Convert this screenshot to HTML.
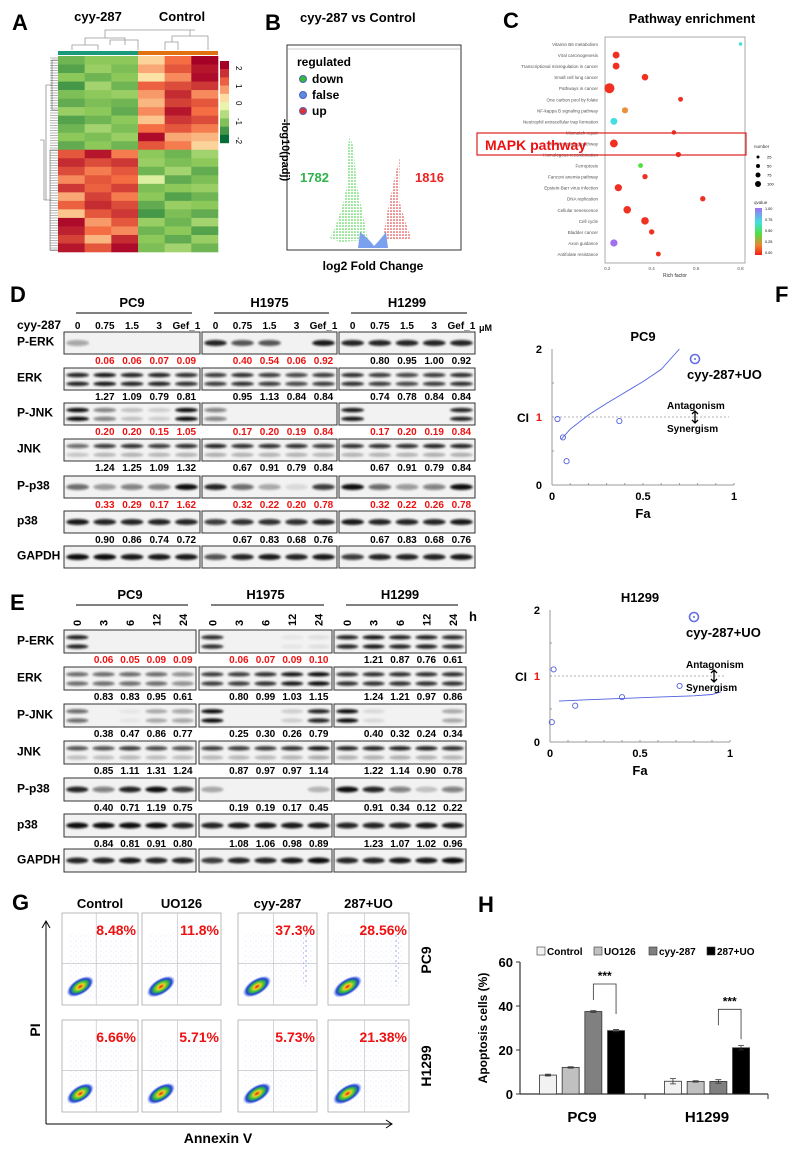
<!DOCTYPE html>
<html><head><meta charset="utf-8">
<style>
html,body{margin:0;padding:0;background:#fff;}
svg{display:block;font-family:"Liberation Sans",Arial,sans-serif;}
</style></head>
<body>
<svg id="fig" width="792" height="1159" viewBox="0 0 792 1159" xmlns="http://www.w3.org/2000/svg">
<defs>
<filter id="blur1" x="-20%" y="-100%" width="140%" height="300%"><feGaussianBlur stdDeviation="1"/></filter>
<filter id="blur2" x="-50%" y="-50%" width="200%" height="200%"><feGaussianBlur stdDeviation="2"/></filter>
<radialGradient id="flowgrad" cx="50%" cy="50%" r="50%">
<stop offset="0%" stop-color="#e02010"/><stop offset="25%" stop-color="#f0d020"/><stop offset="50%" stop-color="#30c040"/><stop offset="75%" stop-color="#2040d0"/><stop offset="100%" stop-color="#4060ff" stop-opacity="0"/>
</radialGradient>
<pattern id="dotsB" width="5" height="5" patternUnits="userSpaceOnUse"><circle cx="1" cy="1" r="0.6" fill="#5060e0"/><circle cx="3.5" cy="3" r="0.5" fill="#7080f0"/></pattern>
<pattern id="dotsG" width="3" height="3" patternUnits="userSpaceOnUse"><circle cx="1" cy="1" r="0.8" fill="#33cc33"/></pattern>
<pattern id="dotsR" width="3" height="3" patternUnits="userSpaceOnUse"><circle cx="1" cy="1" r="0.8" fill="#dd2222"/></pattern>
</defs>
<g id="root"></g>
</svg>
<script>
// ---- Panel H chart data ----
const hGroups = ["PC9", "H1299"];
const hSeries = ["Control", "UO126", "cyy-287", "287+UO"];
const hValues = [[8.6, 12.1, 37.5, 28.8], [5.8, 5.7, 5.7, 21.0]];
const hErrors = [[0.4, 0.3, 0.4, 0.5], [1.2, 0.3, 0.8, 1.0]];
const hTicks = [0, 20, 40, 60];
// ---- Panel F CI data ----
const fPc9Fa = [0.03, 0.06, 0.08, 0.37];
const fPc9CI = [0.97, 0.70, 0.35, 0.94];
const fPc9CurveFa = [0.05, 0.1, 0.2, 0.3, 0.4, 0.5, 0.6, 0.7];
const fPc9CurveCI = [0.67, 0.82, 1.03, 1.2, 1.36, 1.52, 1.7, 2.0];
const fH1299Fa = [0.02, 0.01, 0.14, 0.40, 0.72];
const fH1299CI = [1.10, 0.30, 0.55, 0.68, 0.85];
const fH1299CurveFa = [0.05, 0.2, 0.4, 0.6, 0.8, 0.9, 0.95];
const fH1299CurveCI = [0.62, 0.64, 0.66, 0.68, 0.70, 0.72, 0.76];
// ---- Panel C enrichment data ----
const cPathways = ["Vitamin B6 metabolism","Viral carcinogenesis","Transcriptional misregulation in cancer","Small cell lung cancer","Pathways in cancer","One carbon pool by folate","NF-kappa B signaling pathway","Neutrophil extracellular trap formation","Mismatch repair","MAPK signaling pathway","Homologous recombination","Ferroptosis","Fanconi anemia pathway","Epstein-Barr virus infection","DNA replication","Cellular senescence","Cell cycle","Bladder cancer","Axon guidance","Antifolate resistance"];
const cRich = [0.8,0.24,0.24,0.37,0.21,0.53,0.28,0.23,0.5,0.23,0.52,0.35,0.37,0.25,0.63,0.29,0.37,0.4,0.23,0.43];
const cCount = [5,40,40,35,100,15,30,40,12,55,20,15,20,45,20,50,50,20,45,15];
const cQ = [0.8,0.1,0.15,0.02,0.08,0.05,0.3,0.75,0.05,0.08,0.03,0.55,0.08,0.1,0.02,0.02,0.03,0.08,0.95,0.08];
// ---- Panel A heatmap values ----
const heatRows = [
[-1.2,-1,-1,0.3,1,2],[-1.4,-0.9,-1.1,0.6,1.2,1.8],[-1.0,-1.2,-1.0,0.2,0.8,1.9],[-1.5,-0.8,-1.2,1.1,1.3,1.5],
[-1.1,-1.0,-0.9,0.7,1.6,0.8],[-1.3,-1.1,-1.2,0.5,1.4,1.2],[-0.9,-1.0,-1.3,0.8,1.8,1.0],[-1.4,-1.2,-1.0,0.4,1.5,1.3],
[-1.2,-0.8,-1.1,1.0,1.2,0.9],[-1.0,-1.1,-0.9,1.9,0.6,0.5],[-1.3,-1.0,-1.2,1.2,0.9,0.3],
[1.2,1.8,0.9,-1,-1.2,-0.8],[1.6,1.3,1.5,-0.9,-1.1,-1.0],[1.3,0.9,1.2,-1.2,-0.8,-1.3],[0.8,1.2,1.0,-0.3,-1.3,-1.1],
[1.5,1.1,1.4,-1.1,-1.0,-0.9],[0.6,1.4,0.9,-1.0,-1.4,-1.2],[1.1,1.6,1.3,-1.3,-0.9,-1.0],[0.4,1.2,1.5,-1.5,-1.1,-1.3],
[1.9,0.7,1.2,-0.9,-1.2,-0.8],[1.7,1.0,0.8,-1.2,-1.0,-1.4],[1.4,0.5,1.6,-1.0,-1.3,-0.9],[1.8,1.2,1.9,-1.1,-0.8,-1.2]];

const NS="http://www.w3.org/2000/svg";
const root=document.getElementById('root');
function el(tag,attrs,parent,text){const e=document.createElementNS(NS,tag);for(const k in attrs)e.setAttribute(k,attrs[k]);if(text!==undefined)e.textContent=text;(parent||root).appendChild(e);return e;}
function txt(x,y,s,size,opts){opts=opts||{};const t=el('text',{x:x,y:y,'font-size':size,'font-weight':opts.w||'bold','fill':opts.c||'#000','text-anchor':opts.a||'start'},opts.p,s);if(opts.rot)t.setAttribute('transform','rotate('+opts.rot+' '+x+' '+y+')');


return t;}

// Panel letters
[["A",12,30],["B",265,30],["C",503,28],["D",10,302],["E",10,610],["F",775,302],["G",12,910],["H",478,912]].forEach(l=>{txt(l[1],l[2],l[0],22,{n:'panel-letter-'+l[0].toLowerCase()});});

// ===== Panel A heatmap =====
const gA=el('g',{});


txt(98,21,"cyy-287",13,{a:'middle',n:'heatmap-group-cyy287'});
txt(182,21,"Control",13,{a:'middle',n:'heatmap-group-control'});
function heatColor(v){const stops=[[-2,[0,104,55]],[-1,[140,200,90]],[0,[255,255,191]],[1,[244,109,67]],[2,[165,0,38]]];v=Math.max(-2,Math.min(2,v));for(let i=0;i<stops.length-1;i++){const a=stops[i],b=stops[i+1];if(v<=b[0]){const t=(v-a[0])/(b[0]-a[0]);return 'rgb('+a[1].map((c,j)=>Math.round(c+(b[1][j]-c)*t)).join(',')+')';}}return 'rgb(165,0,38)';}
const hx0=58,hx1=218,hy0=56,hy1=252,cw=(hx1-hx0)/6,rh=(hy1-hy0)/heatRows.length;
heatRows.forEach((row,r)=>{row.forEach((v,c)=>{const rc=el('rect',{x:hx0+c*cw,y:hy0+r*rh,width:cw+0.3,height:rh+0.3,fill:heatColor(v)},gA);

});});
el('rect',{x:hx0,y:51,width:80,height:4,fill:'#1a9a7a'},gA);
el('rect',{x:hx0+80,y:51,width:80,height:4,fill:'#e07010'},gA);
el('path',{d:'M72 50V45H98V50 M85 45V38H125V45 M110 45V40H138V50 M105 38V30H195 M165 50V42H178V50 M172 42V36H208V50 M190 36V30',stroke:'#999',fill:'none','stroke-width':0.8},gA);
el('path',{d:'M58 60H52V110H58 M52 85H46V200H52 M58 150H50V250H58 M50 200H44 M44 140V200 M44 140H40',stroke:'#666',fill:'none','stroke-width':0.6},gA);
for(let y=58;y<252;y+=2.5){el('line',{x1:50,x2:58,y1:y,y2:y,stroke:'#444','stroke-width':0.4},gA);}
for(let i=0;i<10;i++){el('rect',{x:220,y:61+i*8.2,width:9,height:8.4,fill:heatColor(2-i*0.44)},gA);}
[["2",66],["1",84],["0",101],["-1",118],["-2",137]].forEach(t=>{txt(236,t[1],t[0],8,{n:'colorbar-tick',rot:90,w:'normal'});});

// ===== Panel B volcano =====
txt(300,22,"cyy-287 vs Control",13,{n:'volcano-title'});
const bb=el('rect',{x:287,y:45,width:174,height:205,fill:'#fff',stroke:'#333','stroke-width':1});


el('line',{x1:287,x2:461,y1:49,y2:49,stroke:'#999','stroke-width':0.5});
txt(297,66,"regulated",12,{n:'legend-title'});
[["down",83,'#33bb33'],["false",99,'#5b8be0'],["up",115,'#dd3333']].forEach(l=>{const c=el('circle',{cx:303,cy:l[1]-4,r:3.5,fill:l[2],stroke:'#5060c0','stroke-width':1});


txt(312,l[1],l[0],12,{n:'legend-entry-'+l[0]});});
el('path',{d:'M330 238 Q342 215 348 180 Q346 150 350 135 L354 150 Q356 185 360 200 Q364 220 368 240 L340 242 Z',fill:'url(#dotsG)'});
el('path',{d:'M383 240 Q386 215 392 190 Q396 170 400 158 L399 200 Q406 225 412 240 Z',fill:'url(#dotsR)'});
el('path',{d:'M360 232 Q370 240 374 246 Q380 240 386 232 L388 248 L358 248 Z',fill:'#7aa0ee'});
txt(300,182,"1782",13,{c:'#2db34a',n:'down-count'});
txt(415,182,"1816",13,{c:'#ee2222',n:'up-count'});
txt(282,150,"-log10(padj)",11,{rot:90,a:'middle',n:'y-axis-title'});
txt(373,270,"log2 Fold Change",12,{a:'middle',n:'x-axis-title'});

// ===== Panel C =====
txt(692,23,"Pathway enrichment",13,{a:'middle',n:'enrichment-title'});
const cx0=605,cx1=745,cy0=37,cy1=263;
const cb=el('rect',{x:cx0,y:cy0,width:cx1-cx0,height:cy1-cy0,fill:'#fff',stroke:'#aaa'});


function cX(v){return cx0+(v-0.19)/(0.82-0.19)*(cx1-cx0);} function cY(i){return 44+i*(254-44)/(cPathways.length-1);}
function qColor(q){if(q<0.2)return '#f03020';if(q<0.4)return '#e89040';if(q<0.6)return '#50e040';if(q<0.85)return '#40e0e0';return '#a070f0';}
cPathways.forEach((p,i)=>{txt(598,cY(i)+2,p,4.5,{a:'end',w:'normal',c:'#555',n:'pathway-label'});
const d=el('circle',{cx:cX(cRich[i]),cy:cY(i),r:0.8+Math.sqrt(cCount[i])*0.42,fill:qColor(cQ[i])});

});
[0.2,0.4,0.6,0.8].forEach(v=>txt(cX(v),270,v.toFixed(1),4.5,{a:'middle',w:'normal',c:'#555',n:'x-tick'}));
txt(675,277,"Rich factor",5,{a:'middle',w:'normal',c:'#333',n:'x-axis-title'});
const mb=el('rect',{x:477,y:133,width:269,height:22,fill:'none',stroke:'#e02020','stroke-width':1.2});


txt(485,150,"MAPK pathway",14,{c:'#ee1111',n:'mapk-label'});
txt(754,148,"number",4.5,{w:'normal',c:'#333',n:'size-legend-title'});
[[25,157,1.5],[50,166,2],[75,175,2.5],[100,184,3]].forEach(s=>{el('circle',{cx:758,cy:s[1],r:s[2],fill:'#000'});txt(767,s[1]+1.5,String(s[0]),4,{w:'normal',n:'size-legend-entry'});});
txt(754,204,"qvalue",4.5,{w:'normal',c:'#333',n:'color-legend-title'});
const qg=el('linearGradient',{id:'qg',x1:0,y1:0,x2:0,y2:1},document.querySelector('defs'));
[['0','#a070f0'],['0.3','#40e0e0'],['0.55','#50e040'],['0.8','#f08030'],['1','#f02010']].forEach(s=>el('stop',{offset:s[0],'stop-color':s[1]},qg));
el('rect',{x:755,y:208,width:7,height:47,fill:'url(#qg)'});
[["1.00",210],["0.75",221],["0.50",232],["0.25",243],["0.00",254]].forEach(t=>txt(765,t[1],t[0],3.8,{w:'normal',n:'qvalue-tick'}));

// ===== Western blots =====
function blotPanel(cfg){
  cfg.groups.forEach((g,gi)=>{
    const bx=cfg.boxes[gi];
    txt((bx[0]+bx[1])/2,cfg.headY,g,13,{a:'middle',n:'cell-line-header'});
    el('line',{x1:bx[0]+12,x2:bx[1]-8,y1:cfg.headY+6,y2:cfg.headY+6,stroke:'#000','stroke-width':1});
  });
  cfg.rows.forEach((row,ri)=>{
    const y0=cfg.rowY[ri];
    txt(17,y0+cfg.rowH*0.62,row.name,12,{n:'blot-label-'+row.name.toLowerCase()});
    cfg.groups.forEach((g,gi)=>{
      const bx=cfg.boxes[gi],w=bx[1]-bx[0],lw=w/5;
      const b=el('rect',{x:bx[0],y:y0,width:w,height:cfg.rowH,fill:'#f2f2f2',stroke:'#333','stroke-width':1});
      
      
      row.int[gi].forEach((v,li)=>{
        if(v<=0)return;
        const cxp=bx[0]+lw*(li+0.5);
        const ys=row.two?[y0+cfg.rowH*0.32,y0+cfg.rowH*0.72]:[y0+cfg.rowH*0.5];
        ys.forEach((yy,k)=>{el('ellipse',{cx:cxp,cy:yy,rx:lw*0.42,ry:row.two?2.2:3,fill:'#111','fill-opacity':(k===1&&row.weak2?v*0.3:v),filter:'url(#blur1)'});});
      });
      if(row.vals&&row.vals[gi]){
        row.vals[gi].forEach((s,li)=>{txt(bx[0]+lw*(li+1.5),y0+cfg.rowH+10,s,10,{a:'middle',c:row.red&&row.red[gi]?'#ee1111':'#000',n:'densitometry-value'});});
      }
    });
  });
}
txt(17,329,"cyy-287",12,{n:'dose-label'});
const dBoxes=[[64,200],[202,337],[339,475]];
dBoxes.forEach(bx=>{const lw=(bx[1]-bx[0])/5;["0","0.75","1.5","3","Gef_1"].forEach((s,i)=>txt(bx[0]+lw*(i+0.5),329,s,10,{a:'middle',n:'dose-tick'}));});
txt(479,331,"μM",9,{n:'unit-label'});
blotPanel({groups:["PC9","H1975","H1299"],boxes:dBoxes,headY:307,rowH:22,
rowY:[332,368,403,439,476,511,546],
rows:[
{name:"P-ERK",int:[[0.35,0,0,0,0],[0.9,0.7,0.7,0,0.95],[0.9,0.9,0.9,0.9,0.9]],vals:[["0.06","0.06","0.07","0.09"],["0.40","0.54","0.06","0.92"],["0.80","0.95","1.00","0.92"]],red:[1,1,0]},
{name:"ERK",two:true,int:[[0.9,0.95,0.9,0.9,0.85],[0.8,0.85,0.8,0.75,0.8],[0.85,0.8,0.75,0.8,0.85]],vals:[["1.27","1.09","0.79","0.81"],["0.95","1.13","0.84","0.84"],["0.74","0.78","0.84","0.84"]]},
{name:"P-JNK",two:true,int:[[1,0.5,0.2,0.15,1],[0.5,0,0,0,0],[0.95,0,0,0,0.9]],vals:[["0.20","0.20","0.15","1.05"],["0.17","0.20","0.19","0.84"],["0.17","0.20","0.19","0.84"]],red:[1,1,1]},
{name:"JNK",two:true,weak2:true,int:[[0.6,0.8,0.85,0.8,0.85],[0.9,0.85,0.85,0.85,0.8],[0.85,0.85,0.85,0.9,0.9]],vals:[["1.24","1.25","1.09","1.32"],["0.67","0.91","0.79","0.84"],["0.67","0.91","0.79","0.84"]]},
{name:"P-p38",int:[[0.6,0.4,0.5,0.5,1],[0.9,0.6,0.3,0.1,0.8],[1,0.6,0.4,0.5,1]],vals:[["0.33","0.29","0.17","1.62"],["0.32","0.22","0.20","0.78"],["0.32","0.22","0.26","0.78"]],red:[1,1,1]},
{name:"p38",int:[[0.95,0.9,0.9,0.9,0.9],[0.8,0.85,0.85,0.85,0.9],[0.95,0.9,0.9,0.9,0.95]],vals:[["0.90","0.86","0.74","0.72"],["0.67","0.83","0.68","0.76"],["0.67","0.83","0.68","0.76"]]},
{name:"GAPDH",int:[[1,1,0.95,0.95,0.95],[0.7,0.9,0.95,0.9,0.95],[0.8,0.9,0.9,0.9,0.95]]}
]});
const eBoxes=[[64,196],[199,332],[334,466]];
eBoxes.forEach(bx=>{const lw=(bx[1]-bx[0])/5;["0","3","6","12","24"].forEach((s,i)=>txt(bx[0]+lw*(i+0.5)+4,626,s,11,{rot:-90,n:'time-tick'}));});
txt(469,621,"h",13,{n:'unit-label'});
blotPanel({groups:["PC9","H1975","H1299"],boxes:eBoxes,headY:599,rowH:23,
rowY:[630,667,704,741,778,814,849],
rows:[
{name:"P-ERK",two:true,int:[[0.9,0,0,0,0],[0.85,0,0,0.05,0.08],[0.9,0.95,0.9,0.9,0.85]],vals:[["0.06","0.05","0.09","0.09"],["0.06","0.07","0.09","0.10"],["1.21","0.87","0.76","0.61"]],red:[1,1,0]},
{name:"ERK",two:true,int:[[0.6,0.6,0.6,0.6,0.45],[0.8,0.8,0.85,0.95,1],[0.85,0.85,0.85,0.85,0.85]],vals:[["0.83","0.83","0.95","0.61"],["0.80","0.99","1.03","1.15"],["1.24","1.21","0.97","0.86"]]},
{name:"P-JNK",two:true,int:[[0.6,0,0.05,0.3,0.35],[1,0,0,0.15,0.9],[1,0.1,0,0,0.3]],vals:[["0.38","0.47","0.86","0.77"],["0.25","0.30","0.26","0.79"],["0.40","0.32","0.24","0.34"]]},
{name:"JNK",two:true,weak2:true,int:[[0.7,0.7,0.8,0.75,0.7],[0.8,0.8,0.8,0.85,0.95],[0.9,0.9,0.9,0.9,0.85]],vals:[["0.85","1.11","1.31","1.24"],["0.87","0.97","0.97","1.14"],["1.22","1.14","0.90","0.78"]]},
{name:"P-p38",int:[[0.9,0.5,0.9,1,0.8],[0.3,0,0,0,0.25],[1,0.9,0.5,0.2,0.5]],vals:[["0.40","0.71","1.19","0.75"],["0.19","0.19","0.17","0.45"],["0.91","0.34","0.12","0.22"]]},
{name:"p38",int:[[1,1,1,1,0.9],[0.9,0.95,0.95,0.95,0.95],[0.9,0.9,0.9,0.95,0.95]],vals:[["0.84","0.81","0.91","0.80"],["1.08","1.06","0.98","0.89"],["1.23","1.07","1.02","0.96"]]},
{name:"GAPDH",int:[[0.9,0.9,0.95,0.9,0.9],[0.8,0.9,0.9,0.95,1],[0.9,0.9,0.95,0.95,1]]}
]});

// ===== Panel F CI plots =====
function ciPlot(o){
  const X=v=>o.x0+v*(o.x1-o.x0), Y=v=>o.y0-v*(o.y0-o.y2)/2;
  txt((o.x0+o.x1)/2,o.y2-8,o.title,13,{a:'middle',n:'ci-title'});
  el('line',{x1:o.x0,x2:o.x0,y1:o.y0,y2:o.y2,stroke:'#999'});
  el('line',{x1:o.x0,x2:o.x1,y1:o.y0,y2:o.y0,stroke:'#999'});
  for(let i=0;i<=10;i++)el('line',{x1:X(i/10),x2:X(i/10),y1:o.y0,y2:o.y0-2,stroke:'#999'});
  [0.5,1,1.5].forEach(v=>el('line',{x1:o.x0,x2:o.x0+2,y1:Y(v),y2:Y(v),stroke:'#999'}));
  el('line',{x1:o.x0,x2:o.x1-5,y1:Y(1),y2:Y(1),stroke:'#999','stroke-dasharray':'2,2','stroke-width':0.8});
  [["0",0],["0.5",0.5],["1",1]].forEach(t=>txt(X(t[1]),o.y0+15,t[0],11,{a:'middle',n:'x-tick'}));
  txt(o.x0-10,o.y0+4,"0",11,{a:'end',n:'y-tick'});txt(o.x0-10,o.y2+4,"2",11,{a:'end',n:'y-tick'});
  txt(o.x0-10,Y(1)+4,"1",11,{a:'end',c:'#ee1111',n:'y-tick'});
  txt(o.x0-23,Y(1)+5,"CI",12,{a:'end',n:'y-axis-title'});
  txt(X(0.5),o.y0+33,"Fa",13,{a:'middle',n:'x-axis-title'});
  let d='';o.cf.forEach((f,i)=>{d+=(i?'L':'M')+X(f).toFixed(1)+' '+Y(o.cc[i]).toFixed(1);});
  const ln=el('path',{d:d,fill:'none',stroke:'#5060e0','stroke-width':0.9});
  
  
  o.fa.forEach((f,i)=>{const p=el('circle',{cx:X(f),cy:Y(o.ci[i]),r:2.6,fill:'none',stroke:'#5060e0','stroke-width':0.9});
  
  });
  el('circle',{cx:o.lx,cy:o.ly,r:4.5,fill:'none',stroke:'#6070e0','stroke-width':1.6});
  el('circle',{cx:o.lx,cy:o.ly,r:1,fill:'#6070e0'});
  txt(o.lx-8,o.ly+20,"cyy-287+UO",13,{n:'ci-legend'});
  txt(o.ax,Y(1)-8,"Antagonism",10,{n:'antagonism-label'});
  txt(o.ax,Y(1)+15,"Synergism",10,{n:'synergism-label'});
  el('path',{d:'M'+(o.ax+28)+' '+(Y(1)-6)+'V'+(Y(1)+6)+'M'+(o.ax+25)+' '+(Y(1)-3)+'L'+(o.ax+28)+' '+(Y(1)-6)+'L'+(o.ax+31)+' '+(Y(1)-3)+'M'+(o.ax+25)+' '+(Y(1)+3)+'L'+(o.ax+28)+' '+(Y(1)+6)+'L'+(o.ax+31)+' '+(Y(1)+3),stroke:'#000',fill:'none','stroke-width':1.3});
}
ciPlot({title:"PC9",x0:552,x1:734,y0:485,y2:349,fa:fPc9Fa,ci:fPc9CI,cf:fPc9CurveFa,cc:fPc9CurveCI,lx:695,ly:359,ax:667});
ciPlot({title:"H1299",x0:550,x1:730,y0:742,y2:610,fa:fH1299Fa,ci:fH1299CI,cf:fH1299CurveFa,cc:fH1299CurveCI,lx:694,ly:617,ax:686});

// ===== Panel G flow cytometry =====
const gCols=[[62,138],[142,221],[238,317],[328,409]];
const gRows=[[913,1005],[1020,1112]];
["Control","UO126","cyy-287","287+UO"].forEach((s,i)=>txt((gCols[i][0]+gCols[i][1])/2,908,s,13,{a:'middle',n:'treatment-label'}));
const gPct=[["8.48%","11.8%","37.3%","28.56%"],["6.66%","5.71%","5.73%","21.38%"]];
gRows.forEach((r,ri)=>{gCols.forEach((c,ci)=>{
  const w=c[1]-c[0],h=r[1]-r[0];
  const b=el('rect',{x:c[0],y:r[0],width:w,height:h,fill:'#fff',stroke:'#aaa','stroke-width':0.8});
  
  
  const qx=c[0]+w*0.45,qy=r[0]+h*0.55;
  el('line',{x1:qx,x2:qx,y1:r[0],y2:r[1],stroke:'#bbb','stroke-width':0.6});
  el('line',{x1:c[0],x2:c[1],y1:qy,y2:qy,stroke:'#bbb','stroke-width':0.6});
  el('rect',{x:c[0]+5,y:r[0]+20,width:w-10,height:h-25,fill:'url(#dotsB)',opacity:0.18});
  const bxc=c[0]+w*0.24,byc=r[0]+h*0.8;
  el('ellipse',{cx:bxc,cy:byc,rx:w*0.2,ry:h*0.085,fill:'url(#flowgrad)',transform:'rotate(-32 '+bxc+' '+byc+')'});
  if(ri===0&&ci>=2){el('ellipse',{cx:c[0]+w*0.85,cy:r[0]+h*0.5,rx:3,ry:h*0.3,fill:'url(#dotsB)'});}
  txt(c[1]-2,r[0]+22,gPct[ri][ci],14,{a:'end',c:'#ee1111',n:'apoptosis-percent'});
});});
el('path',{d:'M46 1124V922M42 928L46 921L50 928M46 1124H392M386 1120L392 1124L386 1128',stroke:'#000',fill:'none','stroke-width':1});
txt(40,1030,"PI",14,{rot:-90,a:'middle',n:'y-axis-title'});
txt(218,1143,"Annexin V",14,{a:'middle',n:'x-axis-title'});
txt(431,960,"PC9",14,{rot:-90,a:'middle',n:'row-label-pc9'});
txt(431,1066,"H1299",14,{rot:-90,a:'middle',n:'row-label-h1299'});

// ===== Panel H bar chart =====
const hx0p=520,hx1p=768,hy0p=1094,hyTop=962;
const hY=v=>hy0p-(v/60)*(hy0p-hyTop);
const hColors=['#f2f2f2','#c0c0c0','#808080','#000'];
const groupCenters=[582,707],barW=17,barStep=22.7;
el('line',{x1:hx0p,x2:hx0p,y1:hyTop,y2:hy0p,stroke:'#333','stroke-width':1.2});
el('line',{x1:hx0p,x2:hx1p,y1:hy0p,y2:hy0p,stroke:'#333','stroke-width':1.2});
el('line',{x1:645,x2:645,y1:hy0p,y2:hy0p+5,stroke:'#333'});
el('line',{x1:hx1p,x2:hx1p,y1:hy0p,y2:hy0p+5,stroke:'#333'});
hTicks.forEach(t=>{el('line',{x1:hx0p-4,x2:hx0p,y1:hY(t),y2:hY(t),stroke:'#333'});txt(hx0p-7,hY(t)+5,String(t),13,{a:'end',n:'y-tick'});});
txt(487,1028,"Apoptosis cells (%)",12,{rot:-90,a:'middle',n:'y-axis-title'});
hGroups.forEach((g,gi)=>{
  txt(groupCenters[gi],1122,g,15,{a:'middle',n:'x-category-'+g.toLowerCase()});
  hValues[gi].forEach((v,si)=>{
    const x=groupCenters[gi]+(si-1.5)*barStep-barW/2;
    const r=el('rect',{x:x,y:hY(v),width:barW,height:hy0p-hY(v),fill:hColors[si],stroke:'#333','stroke-width':0.8});
    
    
    const e=hErrors[gi][si],xc=x+barW/2;
    el('path',{d:'M'+xc+' '+hY(v+e)+'V'+hY(v-e)+'M'+(xc-3)+' '+hY(v+e)+'H'+(xc+3)+'M'+(xc-3)+' '+hY(v-e)+'H'+(xc+3),stroke:'#333','stroke-width':0.8});
  });
});
function bracket(gi,a,b,topV){const xa=groupCenters[gi]+(a-1.5)*barStep,xb=groupCenters[gi]+(b-1.5)*barStep;const yt=hY(topV);
el('path',{d:'M'+xa+' '+(yt+16)+'V'+yt+'H'+xb+'V'+(yt+30),stroke:'#333',fill:'none','stroke-width':0.8});
txt((xa+xb)/2,yt-4,"***",12,{a:'middle',n:'significance-marker'});}
bracket(0,2,3,50);bracket(1,2,3,38.5);
let lx=537;hSeries.forEach((s,si)=>{el('rect',{x:lx,y:947,width:8,height:8,fill:hColors[si],stroke:'#333','stroke-width':0.6});txt(lx+10,955,s,10,{n:'legend-entry-'+s.toLowerCase()});lx+=10+[47,45,48,44][si];});
</script>
</body></html>
